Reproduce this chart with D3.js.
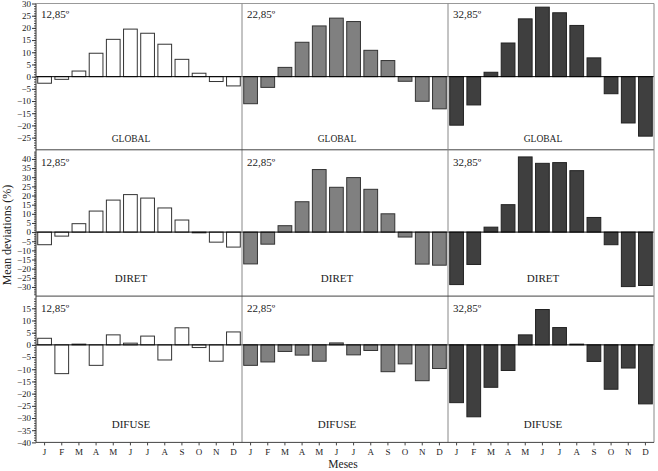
<!DOCTYPE html>
<meta charset="utf-8">
<style>
  body { margin: 0; background: #fff; }
  text { font-family: "Liberation Serif", "Times New Roman", serif; fill: #222; }
</style>
<script src="https://cdn.jsdelivr.net/npm/d3@7"></script>
<body>
<div id="chart"></div>
</body>
<script>
// months and panel labels
var months = ["J", "F", "M", "A", "M", "J", "J", "A", "S", "O", "N", "D"];
var latitudes = ["12,85º", "22,85º", "32,85º"];
var components = ["GLOBAL", "DIRET", "DIFUSE"];

// mean deviations (%), one array per latitude
var global12 = [-2.7, -1.1, 2.3, 9.6, 15.3, 19.5, 17.8, 13.3, 7.1, 1.4, -2.0, -3.8];
var global22 = [-11.1, -4.4, 3.8, 14.1, 20.8, 24.0, 22.6, 10.8, 6.6, -1.9, -10.1, -13.2];
var global32 = [-19.9, -11.6, 1.8, 13.8, 23.7, 28.5, 26.2, 21.0, 7.7, -7.0, -19.0, -24.4];

var diret12 = [-6.9, -2.2, 4.6, 11.5, 17.5, 20.5, 18.6, 13.2, 6.6, -0.4, -5.5, -8.2];
var diret22 = [-17.4, -6.6, 3.5, 16.6, 34.2, 24.5, 29.8, 23.4, 10.0, -2.7, -17.5, -18.1];
var diret32 = [-28.7, -17.7, 2.7, 15.0, 41.1, 37.6, 38.0, 33.6, 8.0, -6.9, -29.8, -29.2];

var difuse12 = [2.7, -11.8, 0.3, -8.4, 4.1, 0.7, 3.6, -6.2, 7.0, -1.1, -6.7, 5.3];
var difuse22 = [-8.4, -7.0, -2.7, -4.2, -6.7, 0.8, -4.1, -2.3, -11.0, -7.8, -14.7, -9.7];
var difuse32 = [-23.7, -29.5, -17.4, -10.5, 4.1, 14.5, 7.1, 0.3, -6.8, -18.2, -9.5, -24.2];

// y domains and tick values per row
var rowDomains = [[-30, 30], [-35, 45], [-40, 20]];
var rowTicks = [d3.range(-25, 31, 5), d3.range(-30, 41, 5), d3.range(-40, 16, 5)];

var rows = [
  [global12, global22, global32],
  [diret12, diret22, diret32],
  [difuse12, difuse22, difuse32]
];

var fills = ["#ffffff", "#808080", "#3f3f3f"];
var strokes = ["#333", "#333", "#222"];

var W = 658, H = 471;
var plotLeft = 36, plotRight = 654, plotTop = 3.5, rowH = 146.3;
var panelW = (plotRight - plotLeft) / 3;

var svg = d3.select("#chart").append("svg")
  .attr("width", W)
  .attr("height", H);

var x = d3.scaleBand()
  .domain(d3.range(12))
  .range([0, panelW])
  .paddingInner(0.2)
  .paddingOuter(0.1);

rows.forEach(function(series, r) {
  var y0 = plotTop + r * rowH;
  var y = d3.scaleLinear()
    .domain(rowDomains[r])
    .range([y0 + rowH, y0]);

  // y axis: labelled ticks plus minor ticks
  var minor = d3.range(rowDomains[r][0] + 1, rowDomains[r][1], 1);
  svg.append("g")
    .attr("transform", "translate(" + plotLeft + ",0)")
    .call(d3.axisLeft(y).tickValues(minor).tickSize(2).tickFormat(""))
    .call(function(g) { g.select(".domain").remove(); g.selectAll("line").attr("stroke", "#555"); });
  svg.append("g")
    .attr("transform", "translate(" + plotLeft + ",0)")
    .call(d3.axisLeft(y).tickValues(rowTicks[r]).tickSize(4).tickPadding(1))
    .call(function(g) {
      g.select(".domain").remove();
      g.selectAll("line").attr("stroke", "#333");
      g.selectAll("text").style("font-family", "Liberation Serif").style("font-size", "9px").attr("fill", "#222");
    });

  series.forEach(function(vals, p) {
    var px = plotLeft + p * panelW;
    var g = svg.append("g").attr("transform", "translate(" + px + ",0)");

    g.selectAll("rect")
      .data(vals)
      .enter()
      .append("rect")
        .attr("x", function(d, i) { return x(i); })
        .attr("y", function(d) { return y(Math.max(0, d)); })
        .attr("width", x.bandwidth())
        .attr("height", function(d) { return Math.abs(y(d) - y(0)); })
        .attr("fill", fills[p])
        .attr("stroke", strokes[p])
        .attr("stroke-width", 1);

    g.append("text")
      .attr("x", 5)
      .attr("y", y0 + (r === 0 ? 14 : 16))
      .style("font-size", "11px")
      .text(latitudes[p]);

    g.append("text")
      .attr("x", panelW / 2 - 8)
      .attr("y", y0 + (r === 0 ? 138 : 132))
      .attr("text-anchor", "middle")
      .style("font-size", r === 0 ? "9.5px" : "11px")
      .text(components[r]);
  });

  // zero line across the whole row
  svg.append("line")
    .attr("x1", plotLeft).attr("x2", plotRight)
    .attr("y1", y(0)).attr("y2", y(0))
    .attr("stroke", "#000").attr("stroke-width", 1);
});

// frame: panel separators and row separators
d3.range(4).forEach(function(i) {
  svg.append("line")
    .attr("x1", plotLeft + i * panelW).attr("x2", plotLeft + i * panelW)
    .attr("y1", plotTop).attr("y2", plotTop + 3 * rowH)
    .attr("stroke", i === 0 ? "#333" : "#888").attr("stroke-width", 1);
  svg.append("line")
    .attr("x1", plotLeft).attr("x2", plotRight)
    .attr("y1", plotTop + i * rowH).attr("y2", plotTop + i * rowH)
    .attr("stroke", i === 0 ? "#999" : "#444").attr("stroke-width", 1);
});

// month axis under each panel
d3.range(3).forEach(function(p) {
  var px = plotLeft + p * panelW;
  svg.append("g")
    .attr("transform", "translate(" + px + "," + (plotTop + 3 * rowH) + ")")
    .call(d3.axisBottom(x).tickSize(3).tickPadding(3).tickFormat(function(i) { return months[i]; }))
    .call(function(g) {
      g.select(".domain").remove();
      g.selectAll("line").attr("stroke", "#444");
      g.selectAll("text").style("font-family", "Liberation Serif").style("font-size", "9px").attr("fill", "#222");
    });
});

svg.append("text")
  .attr("x", 343)
  .attr("y", 468)
  .attr("text-anchor", "middle")
  .style("font-size", "11.5px")
  .text("Meses");

svg.append("text")
  .attr("transform", "translate(11,235) rotate(-90)")
  .attr("text-anchor", "middle")
  .style("font-size", "12px")
  .text("Mean deviations (%)");
</script>
